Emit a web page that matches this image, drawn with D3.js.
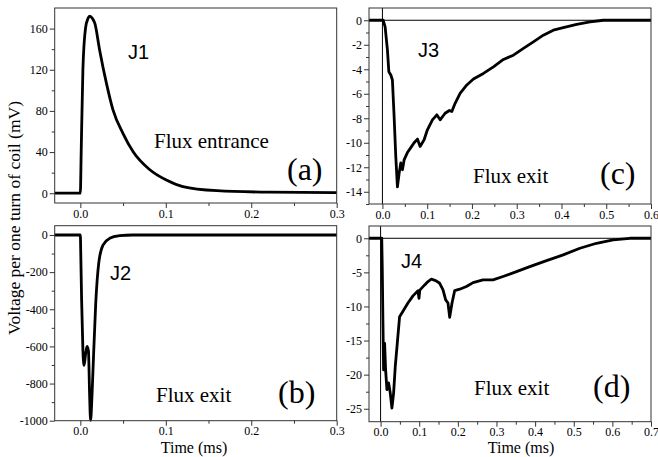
<!DOCTYPE html>
<html>
<head>
<meta charset="utf-8">
<script src="https://cdn.jsdelivr.net/npm/d3@7"></script>
<style>
body{margin:0;background:#fff;}
.serif{font-family:"Liberation Serif","Times New Roman",serif;fill:#000;}
.sans{font-family:"Liberation Sans",Arial,sans-serif;fill:#000;}
</style>
</head>
<body>
<div id="viz"></div>
<script>
// J1 - flux entrance
const j1Time=[-0.03,0,0.001,0.003,0.006,0.009,0.011,0.014,0.017,0.0226,0.0305,0.0382,0.05,0.062,0.081,0.1,0.12,0.16,0.22,0.3];
const j1Volt=[0,0,40,120,160,170,172,170,165,139,107,81,58,40,23,13,6.5,2.5,1,0.5];

// J2 - flux exit
const j2Time=[-0.03,0,0.0005,0.0015,0.003,0.0044,0.0062,0.0078,0.0095,0.0108,0.012,0.0135,0.0148,0.018,0.0215,0.0265,0.0343,0.046,0.061,0.3];
const j2Volt=[0,0,-100,-350,-620,-702,-640,-600,-625,-850,-998,-880,-728,-369,-153,-54,-18,-4,0,0];

// J3
const j3Time=[-0.03,0.0016,0.006,0.0112,0.0143,0.0188,0.0223,0.0261,0.0298,0.0335,0.0373,0.041,0.0447,0.0484,0.0558,0.0634,0.0708,0.0782,0.0842,0.0931,0.1005,0.1117,0.1215,0.1289,0.14,0.1496,0.155,0.1624,0.1735,0.1885,0.2033,0.2256,0.248,0.2703,0.2926,0.315,0.3372,0.3595,0.3818,0.404,0.434,0.4638,0.4935,0.553,0.6];
const j3Volt=[0,0,-0.54,-2.44,-4.2,-4.47,-4.88,-7.86,-11.1,-13.6,-12.5,-11.65,-12.2,-11.4,-10.8,-10.4,-10.0,-9.7,-10.3,-9.76,-8.94,-8.13,-7.72,-8.13,-7.59,-7.37,-7.45,-6.78,-5.96,-5.28,-4.8,-4.34,-3.8,-3.2,-2.85,-2.3,-1.76,-1.22,-0.81,-0.6,-0.33,-0.14,0,0,0];

// J4
const j4Time=[-0.03,0.003,0.0044,0.006,0.0078,0.0104,0.013,0.0164,0.0207,0.025,0.0293,0.0337,0.038,0.0432,0.0492,0.0579,0.0708,0.0838,0.0968,0.0994,0.1015,0.1141,0.1227,0.1314,0.1426,0.153,0.1616,0.1685,0.1745,0.1789,0.1849,0.1919,0.2048,0.2222,0.2395,0.265,0.291,0.317,0.3518,0.3863,0.4296,0.4727,0.516,0.559,0.602,0.645,0.7];
const j4Volt=[0,0,-4.6,-12,-19.3,-15.4,-19.3,-22.2,-21.2,-22.7,-24.9,-22.7,-18.8,-15.4,-11.5,-10.7,-9.5,-8.45,-7.7,-8.8,-7.6,-6.84,-6.35,-6.0,-6.2,-6.6,-7.57,-9.03,-9.5,-11.6,-9.5,-7.67,-7.47,-7.08,-6.5,-6.1,-6.1,-5.6,-4.9,-4.16,-3.27,-2.44,-1.46,-0.73,-0.25,0,0];

// tick labels
const xTicksAB=[0,0.1,0.2,0.3];
const xTicksC=[0,0.1,0.2,0.3,0.4,0.5,0.6];
const xTicksD=[0,0.1,0.2,0.3,0.4,0.5,0.6,0.7];
const yTicksA=[0,40,80,120,160];
const yTicksB=[-1000,-800,-600,-400,-200,0];
const yTicksC=[-14,-12,-10,-8,-6,-4,-2,0];
const yTicksD=[-25,-20,-15,-10,-5,0];

const W=658, H=457;
const serif='"Liberation Serif","Times New Roman",serif';
const svg=d3.select("#viz").append("svg").attr("width",W).attr("height",H);

function panel(p){
  const x=d3.scaleLinear().domain(p.xDomain).range([p.left,p.right]);
  const y=d3.scaleLinear().domain(p.yDomain).range([p.bottom,p.top]);
  const g=svg.append("g");

  // minor ticks
  g.append("g").attr("transform",`translate(0,${p.bottom})`)
    .call(d3.axisBottom(x).tickValues(p.xMinor).tickSize(3).tickFormat(""))
    .call(a=>a.select(".domain").remove());
  g.append("g").attr("transform",`translate(${p.left},0)`)
    .call(d3.axisLeft(y).tickValues(p.yMinor).tickSize(3).tickFormat(""))
    .call(a=>a.select(".domain").remove());

  // major ticks
  g.append("g").attr("transform",`translate(0,${p.bottom})`)
    .call(d3.axisBottom(x).tickValues(p.xTicks).tickSize(5).tickPadding(1).tickFormat(d=>d.toFixed(1)))
    .call(a=>a.select(".domain").remove());
  g.append("g").attr("transform",`translate(${p.left},0)`)
    .call(d3.axisLeft(y).tickValues(p.yTicks).tickSize(5).tickPadding(2).tickFormat(d=>String(d)))
    .call(a=>a.select(".domain").remove());
  g.selectAll(".tick line").attr("stroke","#333");
  g.selectAll(".tick text").style("font-family",serif).style("font-size","12px").attr("fill","#000");

  if(p.zeroLines){
    g.append("line").attr("x1",p.left).attr("x2",p.right).attr("y1",y(0)).attr("y2",y(0))
      .attr("stroke","#000").attr("stroke-width",1);
    g.append("line").attr("x1",x(0)).attr("x2",x(0)).attr("y1",p.top).attr("y2",p.bottom)
      .attr("stroke","#000").attr("stroke-width",1);
  }

  const line=d3.line().x(i=>x(p.t[i])).y(i=>y(p.v[i])).curve(p.curve);
  g.append("path").attr("d",line(d3.range(p.t.length)))
    .attr("fill","none").attr("stroke","#000").attr("stroke-width",p.sw)
    .attr("stroke-linejoin","round");

  g.append("rect").attr("x",p.left).attr("y",p.top)
    .attr("width",p.right-p.left).attr("height",p.bottom-p.top)
    .attr("fill","none").attr("stroke","#333").attr("stroke-width",1);

  g.append("text").attr("class","sans").attr("x",p.jx).attr("y",p.jy).style("font-size","20px").text(p.jName);
  g.append("text").attr("class","serif").attr("x",p.fx).attr("y",p.fy).style("font-size","21px").text(p.flux);
  g.append("text").attr("class","serif").attr("x",p.lx).attr("y",p.ly).style("font-size","32px").text(p.letter);
  return g;
}

panel({left:54.7,right:336.7,top:8,bottom:203,xDomain:[-0.03,0.3],yDomain:[-9.5,180],
  xTicks:xTicksAB,xMinor:d3.range(0.05,0.3,0.1),yTicks:yTicksA,yMinor:d3.range(20,180,40),
  t:j1Time,v:j1Volt,curve:d3.curveMonotoneX,sw:2.8,zeroLines:false,
  jName:"J1",jx:128,jy:59,flux:"Flux entrance",fx:154,fy:148,letter:"(a)",lx:287,ly:180});

panel({left:54.7,right:336.7,top:225.7,bottom:420.7,xDomain:[-0.03,0.3],yDomain:[-1000,50],
  xTicks:xTicksAB,xMinor:d3.range(0.05,0.3,0.1),yTicks:yTicksB,yMinor:d3.range(-900,0,200),
  t:j2Time,v:j2Volt,curve:d3.curveMonotoneX,sw:2.8,zeroLines:false,
  jName:"J2",jx:110,jy:280,flux:"Flux exit",fx:156,fy:401.7,letter:"(b)",lx:278,ly:403});

panel({left:369,right:651,top:8,bottom:204,xDomain:[-0.03,0.6],yDomain:[-15,1],
  xTicks:xTicksC,xMinor:d3.range(0.05,0.6,0.1),yTicks:yTicksC,yMinor:d3.range(-15,0,2),
  t:j3Time,v:j3Volt,curve:d3.curveLinear,sw:2.8,zeroLines:true,
  jName:"J3",jx:418,jy:57,flux:"Flux exit",fx:473,fy:183,letter:"(c)",lx:600,ly:184});

panel({left:369,right:651,top:226,bottom:421.7,xDomain:[-0.03,0.7],yDomain:[-26.9,1.8],
  xTicks:xTicksD,xMinor:d3.range(0.05,0.7,0.1),yTicks:yTicksD,yMinor:d3.range(-22.5,0,5),
  t:j4Time,v:j4Volt,curve:d3.curveLinear,sw:2.8,zeroLines:true,
  jName:"J4",jx:401,jy:268,flux:"Flux exit",fx:474,fy:395,letter:"(d)",lx:593,ly:397});

// axis titles
svg.append("text").attr("class","serif").style("font-size","17.5px")
  .attr("text-anchor","middle")
  .attr("transform","translate(20,218) rotate(-90)")
  .text("Voltage per one turn of coil (mV)");
svg.append("text").attr("class","serif").style("font-size","16px")
  .attr("text-anchor","middle").attr("x",194).attr("y",453).text("Time (ms)");
svg.append("text").attr("class","serif").style("font-size","16px")
  .attr("text-anchor","middle").attr("x",521).attr("y",453).text("Time (ms)");
</script>
</body>
</html>
